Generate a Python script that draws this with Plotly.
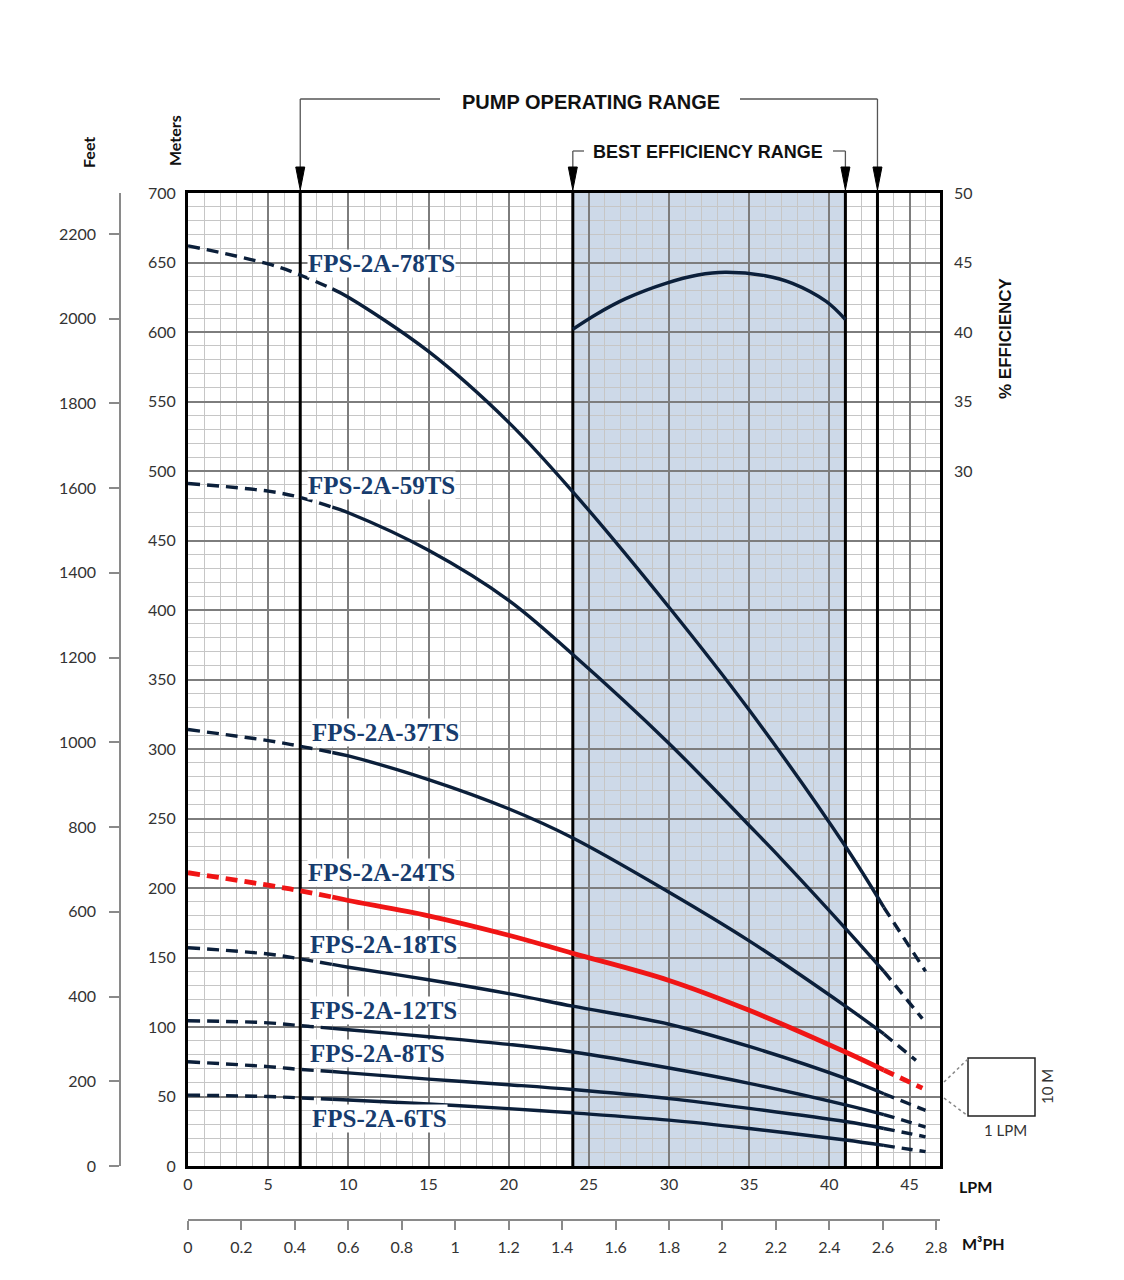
import plotly.graph_objects as go

# ---------------- data ----------------
lpm_ticks = [0, 5, 10, 15, 20, 25, 30, 35, 40, 45]
m3ph_ticks = [0, 0.2, 0.4, 0.6, 0.8, 1, 1.2, 1.4, 1.6, 1.8, 2, 2.2, 2.4, 2.6, 2.8]
meter_ticks = [0, 50, 100, 150, 200, 250, 300, 350, 400, 450, 500, 550, 600, 650, 700]
feet_ticks = [0, 200, 400, 600, 800, 1000, 1200, 1400, 1600, 1800, 2000, 2200]
eff_ticks = [30, 35, 40, 45, 50]

models = ["FPS-2A-78TS", "FPS-2A-59TS", "FPS-2A-37TS", "FPS-2A-24TS",
          "FPS-2A-18TS", "FPS-2A-12TS", "FPS-2A-8TS", "FPS-2A-6TS"]

flow_78 = [0, 5, 7, 9, 10, 15, 20, 24, 30, 35, 41, 43.4, 46.0]
head_78 = [662, 649, 641, 631, 625, 586, 535, 485, 402, 328, 230, 186, 140]
flow_59 = [0, 5, 7, 9, 10, 15, 20, 24, 30, 35, 37, 41, 43.4, 45.8]
head_59 = [491, 485.5, 481, 474, 470, 443, 407, 368, 304, 245, 221, 171, 140, 106]
flow_37 = [0, 5, 7, 9, 10, 15, 20, 24, 30, 35, 41, 43.4, 45.4]
head_37 = [314, 306, 302, 297.5, 295, 278, 257, 236, 197, 162, 115, 95, 76]
flow_24 = [0, 5, 7, 9, 10, 15, 20, 24, 30, 35, 41, 43.4, 45.8]
head_24 = [211, 202, 198, 193.5, 191, 180, 166, 153, 133.5, 112, 82, 69, 56]
flow_18 = [0, 5, 7, 9, 10, 15, 20, 24, 30, 35, 41, 43.4, 46.0]
head_18 = [157, 152.5, 149, 145, 143, 134, 124, 115, 102, 86, 63, 52, 40]
flow_12 = [0, 5, 7, 9, 10, 15, 20, 24, 30, 35, 41, 43.4, 46.0]
head_12 = [104.5, 103, 101, 99, 98, 93, 87.5, 82, 70.5, 59.5, 44, 37, 28]
flow_8 = [0, 5, 7, 9, 10, 15, 20, 24, 30, 35, 41, 43.4, 46.0]
head_8 = [75, 71.5, 69.5, 68, 67, 62.5, 58.5, 55, 48.5, 41.5, 32, 27, 21]
flow_6 = [0, 5, 7, 9, 10, 15, 20, 24, 30, 35, 41, 43.4, 46.0]
head_6 = [51, 50, 49, 48, 47.5, 44.6, 41.3, 38.2, 33, 27, 18.7, 14.8, 10.3]

flows = [flow_78, flow_59, flow_37, flow_24, flow_18, flow_12, flow_8, flow_6]
heads = [head_78, head_59, head_37, head_24, head_18, head_12, head_8, head_6]
highlight = "FPS-2A-24TS"

solid_from = 9.0     # dashed below this flow
solid_to = 43.4      # dashed above this flow

eff_flow = [24, 25.5, 27.3, 29.8, 31.8, 33.5, 36, 37.7, 39.8, 41]
eff_value = [40.2, 41.3, 42.4, 43.5, 44.1, 44.3, 44.05, 43.5, 42.2, 40.9]

operating_range = [7, 43]
best_eff_range = [24, 41]

label_x = [7.42, 7.42, 7.67, 7.42, 7.55, 7.55, 7.55, 7.67]
label_y = [649.6, 489.9, 312.2, 211.5, 159.0, 112.2, 80.6, 34.5]

# ---------------- layout geometry ----------------
W, H = 1124, 1280
ML, MR, MT, MB = 60, 60, 193, 60
PW = W - ML - MR
PH = H - MT - MB
X_MAX = 46.9
Y_MAX = 700
XD0 = (188 - ML) / PW
XD1 = (940 - ML) / PW
YD0 = (H - MB - 1166) / PH


def px_x(px):
    return (px - ML) / PW


def px_y(py):
    return (H - MB - py) / PH


def lpm_px(v):
    return 188 + v / X_MAX * (940 - 188)


NAVY = "#0b1f3a"
RED = "#f01515"
LABEL = "#173c6e"
TICKFONT = dict(family="Lato", size=16, color="#333333")

fig = go.Figure()

for name, fl, hd in zip(models, flows, heads):
    col = RED if name == highlight else NAVY
    w = 4.8 if name == highlight else 3.4
    segs = [
        ([f for f in fl if f <= solid_from], "12px,7px"),
        ([f for f in fl if solid_from <= f <= solid_to], "solid"),
        ([f for f in fl if f >= solid_to], "11px,7px"),
    ]
    for xs, dash in segs:
        ys = [hd[fl.index(f)] for f in xs]
        fig.add_trace(go.Scatter(
            x=xs, y=ys, mode="lines",
            line=dict(color=col, width=w, dash=dash, shape="spline", smoothing=1.0),
            hoverinfo="skip", showlegend=False))

fig.add_trace(go.Scatter(
    x=eff_flow, y=eff_value, mode="lines", yaxis="y3",
    line=dict(color=NAVY, width=3.4, shape="spline", smoothing=1.0),
    hoverinfo="skip", showlegend=False))

# dummy traces to activate secondary axes
fig.add_trace(go.Scatter(x=[0], y=[0], xaxis="x2", yaxis="y", mode="markers",
                         marker=dict(opacity=0), hoverinfo="skip", showlegend=False))
fig.add_trace(go.Scatter(x=[0], y=[0], xaxis="x", yaxis="y2", mode="markers",
                         marker=dict(opacity=0), hoverinfo="skip", showlegend=False))

shapes = []
shapes.append(dict(type="rect", xref="x", yref="y", x0=best_eff_range[0], x1=best_eff_range[1],
                   y0=0, y1=Y_MAX, fillcolor="#cdd9e8", line=dict(width=0), layer="below"))
for v in operating_range + best_eff_range:
    shapes.append(dict(type="line", xref="x", yref="y", x0=v, x1=v, y0=0, y1=Y_MAX,
                       line=dict(color="black", width=3), layer="between"))

BR = dict(color="#555555", width=1.3)


def hline(x0px, x1px, ypx):
    shapes.append(dict(type="line", xref="paper", yref="paper", x0=px_x(x0px), x1=px_x(x1px),
                       y0=px_y(ypx), y1=px_y(ypx), line=BR))


def vline(xpx, y0px, y1px):
    shapes.append(dict(type="line", xref="paper", yref="paper", x0=px_x(xpx), x1=px_x(xpx),
                       y0=px_y(y0px), y1=px_y(y1px), line=BR))


def tri(xpx, ytop, ytip, half=4.5):
    path = (f"M {px_x(xpx - half)},{px_y(ytop)} L {px_x(xpx + half)},{px_y(ytop)} "
            f"L {px_x(xpx)},{px_y(ytip)} Z")
    shapes.append(dict(type="path", xref="paper", yref="paper", path=path,
                       fillcolor="black", line=dict(color="black", width=1)))


oL, oR = lpm_px(operating_range[0]), lpm_px(operating_range[1])
hline(oL, 440, 99)
hline(740, oR, 99)
vline(oL, 99, 168)
vline(oR, 99, 168)
tri(oL, 167, 190)
tri(oR, 167, 190)
bL, bR = lpm_px(best_eff_range[0]), lpm_px(best_eff_range[1])
hline(bL, 584, 151)
hline(833, bR, 151)
vline(bL, 151, 168)
vline(bR, 151, 168)
tri(bL, 167, 190)
tri(bR, 167, 190)

shapes.append(dict(type="rect", xref="paper", yref="paper", x0=px_x(968), x1=px_x(1035),
                   y0=px_y(1116), y1=px_y(1058), line=dict(color="#222222", width=1.5)))
shapes.append(dict(type="line", xref="paper", yref="paper", x0=px_x(944), x1=px_x(968),
                   y0=px_y(1082), y1=px_y(1059), line=dict(color="#888888", width=1.5, dash="dot")))
shapes.append(dict(type="line", xref="paper", yref="paper", x0=px_x(944), x1=px_x(968),
                   y0=px_y(1098), y1=px_y(1116), line=dict(color="#888888", width=1.5, dash="dot")))

annotations = []
for name, lx, ly in zip(models, label_x, label_y):
    annotations.append(dict(x=lx, y=ly, xref="x", yref="y", text=f"<b>{name}</b>", showarrow=False,
                            xanchor="left", yanchor="middle", bgcolor="white", borderpad=0,
                            font=dict(family="Liberation Serif", size=25, color=LABEL)))


def note(xpx, ypx, text, size, family="Liberation Sans", angle=0, color="#111111"):
    annotations.append(dict(x=px_x(xpx), y=px_y(ypx), xref="paper", yref="paper", text=text,
                            textangle=angle, showarrow=False, xanchor="center", yanchor="middle",
                            font=dict(family=family, size=size, color=color)))


note(591, 102, "<b>PUMP OPERATING RANGE</b>", 20)
note(708, 152, "<b>BEST EFFICIENCY RANGE</b>", 18)
note(1005, 338, "<b>% EFFICIENCY</b>", 17, angle=-90)
note(88, 153, "<b>Feet</b>", 16, family="Lato", angle=-90)
note(175, 141, "<b>Meters</b>", 16, family="Lato", angle=-90)
note(975, 1186, "<b>LPM</b>", 16, family="Lato")
note(983, 1243, "<b>M³PH</b>", 16, family="Lato")
note(1047, 1087, "10 M", 15, family="Lato", angle=-90, color="#333333")
note(1005, 1130, "1 LPM", 15, family="Lato", color="#333333")

grid_major = dict(showgrid=True, gridcolor="#7d7d7d", gridwidth=1.5)
grid_minor_x = dict(dtick=1, tick0=0, showgrid=True, gridcolor="#c6c6c6", gridwidth=1.2)
grid_minor_y = dict(dtick=10, tick0=0, showgrid=True, gridcolor="#c6c6c6", gridwidth=1.2)

fig.update_layout(
    width=W, height=H,
    margin=dict(l=ML, r=MR, t=MT, b=MB, pad=0),
    plot_bgcolor="white", paper_bgcolor="white",
    showlegend=False,
    shapes=shapes, annotations=annotations,
    xaxis=dict(domain=[XD0, XD1], range=[0, X_MAX], tickvals=lpm_ticks, **grid_major,
               minor=grid_minor_x, showline=True, linecolor="black", linewidth=3, mirror=True,
               ticks="", zeroline=False, tickfont=TICKFONT, ticklabelstandoff=2),
    yaxis=dict(domain=[YD0, 1], range=[0, Y_MAX], tickvals=meter_ticks, **grid_major,
               minor=grid_minor_y, showline=True, linecolor="black", linewidth=3, mirror=True,
               ticks="", zeroline=False, tickfont=TICKFONT, ticklabelstandoff=6),
    xaxis2=dict(overlaying="x", anchor="free", position=0, side="bottom",
                range=[0, X_MAX * 0.06], tickvals=m3ph_ticks, showgrid=False, zeroline=False,
                showline=True, linecolor="#8a8a8a", linewidth=1.5, ticks="outside", ticklen=9,
                tickcolor="#8a8a8a", tickwidth=1.5, tickfont=TICKFONT, ticklabelstandoff=4),
    yaxis2=dict(overlaying="y", anchor="free", position=px_x(120), side="left",
                range=[0, Y_MAX / 0.3048], tickvals=feet_ticks, showgrid=False, zeroline=False,
                showline=True, linecolor="#8a8a8a", linewidth=1.5, ticks="outside", ticklen=10,
                tickcolor="#8a8a8a", tickwidth=1.5, tickfont=TICKFONT, ticklabelstandoff=10),
    yaxis3=dict(overlaying="y", anchor="x", side="right", range=[-20, 50], tickvals=eff_ticks,
                showgrid=False, zeroline=False, showline=False, ticks="", tickfont=TICKFONT,
                ticklabelstandoff=13),
)

fig.write_html("out.html", config={"displayModeBar": False},
               post_script="document.body.style.margin='0';document.body.style.overflow='hidden';")
